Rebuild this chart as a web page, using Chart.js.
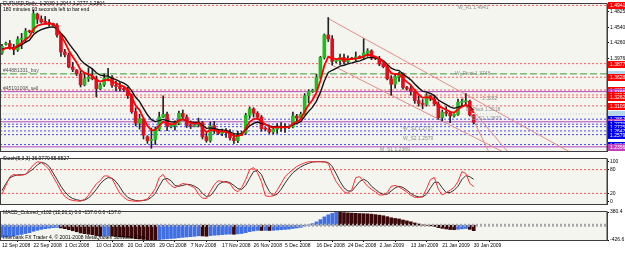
<!DOCTYPE html>
<html lang="en">
<head>
<meta charset="UTF-8">
<title>EURUSD Daily</title>
<script src="https://cdn.jsdelivr.net/npm/chart.js"></script>
<style>
  html, body { margin: 0; padding: 0; background: #fff; }
  #wrap { position: relative; width: 625px; height: 253px; overflow: hidden; background: #fff; }
  #wrap canvas { position: absolute; left: 0; }
</style>
</head>
<body>
<div id="wrap">
  <canvas id="mainChart" width="625" height="155" style="top:0px"></canvas>
  <canvas id="stochChart" width="625" height="53" style="top:155px"></canvas>
  <canvas id="macdChart" width="625" height="45" style="top:208px"></canvas>
</div>
<script>
// daily bars 12 Sep 2008 .. 30 Jan 2009 (incl. sunday bars)
const opens = [1.4070,1.4230,1.4245,1.4170,1.4130,1.4320,1.4340,1.4470,1.4460,1.4780,
  1.4690,1.4640,1.4630,1.4610,1.4580,1.4390,1.4090,1.4040,1.3815,1.3760,
  1.3690,1.3490,1.3600,1.3640,1.3600,1.3420,1.3490,1.3610,1.3620,1.3480,
  1.3460,1.3420,1.3400,1.3290,1.3000,1.2790,1.2860,1.2540,1.2470,1.2490,
  1.2680,1.2900,1.2950,1.2730,1.2740,1.2790,1.2970,1.2900,1.2750,1.2730,
  1.2760,1.2800,1.2540,1.2470,1.2740,1.2650,1.2600,1.2640,1.2620,1.2520,
  1.2470,1.2570,1.2610,1.2930,1.3050,1.2970,1.2900,1.2690,1.2680,1.2630,
  1.2680,1.2730,1.2710,1.2710,1.2720,1.2920,1.2880,1.2950,1.3290,1.3370,
  1.3390,1.3630,1.3990,1.4400,1.4330,1.3920,1.3930,1.3990,1.3910,1.3970,
  1.3960,1.4000,1.3990,1.4070,1.4110,1.3980,1.3970,1.3870,1.3820,1.3600,
  1.3500,1.3640,1.3700,1.3440,1.3420,1.3370,1.3200,1.3150,1.3130,1.3290,
  1.3230,1.3140,1.2890,1.2990,1.2970,1.2920,1.2950,1.3170,1.3180,1.3190,
  1.2939];
const highs = [1.4230,1.4270,1.4300,1.4230,1.4370,1.4430,1.4520,1.4490,1.4860,1.4800,
  1.4750,1.4740,1.4680,1.4620,1.4610,1.4420,1.4140,1.4070,1.3900,1.3770,
  1.3740,1.3720,1.3800,1.3770,1.3650,1.3520,1.3690,1.3790,1.3660,1.3560,
  1.3530,1.3440,1.3450,1.3320,1.3070,1.2950,1.2890,1.2560,1.2700,1.2720,
  1.2990,1.3290,1.2990,1.2760,1.2830,1.3010,1.3030,1.2940,1.2830,1.2770,
  1.2880,1.2820,1.2610,1.2810,1.2820,1.2660,1.2680,1.2690,1.2670,1.2600,
  1.2640,1.2640,1.2970,1.3085,1.3070,1.3000,1.2930,1.2710,1.2720,1.2720,
  1.2780,1.2800,1.2780,1.2740,1.2990,1.2950,1.2990,1.3330,1.3400,1.3410,
  1.3680,1.4010,1.4420,1.4720,1.4390,1.3950,1.4050,1.4050,1.4020,1.3990,
  1.4090,1.4020,1.4330,1.4150,1.4130,1.4000,1.4010,1.3900,1.3840,1.3660,
  1.3680,1.3720,1.3710,1.3460,1.3480,1.3410,1.3290,1.3220,1.3330,1.3300,
  1.3300,1.3180,1.3030,1.3090,1.3000,1.2960,1.3230,1.3230,1.3330,1.3210,
  1.2944];
const lows = [1.4045,1.4215,1.4140,1.4040,1.4100,1.4150,1.4260,1.4440,1.4440,1.4610,
  1.4620,1.4600,1.4560,1.4560,1.4360,1.4010,1.4000,1.3800,1.3730,1.3660,
  1.3450,1.3470,1.3550,1.3580,1.3270,1.3400,1.3460,1.3560,1.3440,1.3380,
  1.3380,1.3370,1.3240,1.2970,1.2740,1.2680,1.2500,1.2420,1.2330,1.2400,
  1.2650,1.2890,1.2650,1.2700,1.2660,1.2760,1.2860,1.2710,1.2690,1.2720,
  1.2720,1.2500,1.2440,1.2440,1.2600,1.2580,1.2560,1.2530,1.2480,1.2420,
  1.2430,1.2560,1.2580,1.2880,1.2900,1.2860,1.2640,1.2650,1.2600,1.2590,
  1.2600,1.2640,1.2620,1.2690,1.2700,1.2810,1.2850,1.2940,1.3160,1.3350,
  1.3380,1.3600,1.3960,1.4280,1.3850,1.3890,1.3860,1.3870,1.3890,1.3950,
  1.3930,1.3980,1.3960,1.4010,1.3950,1.3950,1.3840,1.3800,1.3580,1.3300,
  1.3430,1.3550,1.3410,1.3390,1.3300,1.3150,1.3100,1.3050,1.3100,1.3200,
  1.3110,1.2860,1.2830,1.2920,1.2800,1.2900,1.2930,1.3100,1.3120,1.2920,
  1.2777];
const closes = [1.4195,1.4245,1.4170,1.4130,1.4320,1.4340,1.4470,1.4460,1.4790,1.4690,
  1.4640,1.4630,1.4610,1.4580,1.4400,1.4090,1.4040,1.3815,1.3770,1.3690,
  1.3490,1.3600,1.3630,1.3600,1.3420,1.3490,1.3610,1.3620,1.3480,1.3460,
  1.3420,1.3400,1.3290,1.3000,1.2790,1.2870,1.2570,1.2470,1.2490,1.2680,
  1.2900,1.2950,1.2730,1.2740,1.2790,1.2970,1.2900,1.2750,1.2730,1.2760,
  1.2800,1.2540,1.2470,1.2740,1.2650,1.2600,1.2640,1.2620,1.2520,1.2470,
  1.2570,1.2610,1.2930,1.3050,1.2970,1.2900,1.2690,1.2680,1.2630,1.2680,
  1.2730,1.2710,1.2710,1.2720,1.2920,1.2880,1.2950,1.3290,1.3370,1.3390,
  1.3630,1.3990,1.4400,1.4330,1.3920,1.3930,1.3990,1.3910,1.3970,1.3960,
  1.4000,1.3990,1.4070,1.4110,1.3980,1.3970,1.3870,1.3820,1.3600,1.3500,
  1.3640,1.3700,1.3440,1.3420,1.3370,1.3200,1.3150,1.3130,1.3290,1.3230,
  1.3140,1.2890,1.2990,1.2970,1.2920,1.2950,1.3170,1.3180,1.3190,1.2940,
  1.2804];

// moving averages (red = fast, black = slow)
const maFast = [1.4120,1.4162,1.4165,1.4153,1.4209,1.4253,1.4325,1.4370,1.4510,1.4570,
  1.4593,1.4605,1.4607,1.4598,1.4532,1.4385,1.4270,1.4118,1.4002,1.3898,
  1.3762,1.3708,1.3682,1.3655,1.3577,1.3548,1.3569,1.3586,1.3551,1.3521,
  1.3487,1.3458,1.3402,1.3268,1.3109,1.3029,1.2876,1.2741,1.2657,1.2665,
  1.2743,1.2812,1.2785,1.2770,1.2777,1.2841,1.2861,1.2824,1.2793,1.2782,
  1.2788,1.2705,1.2627,1.2665,1.2660,1.2640,1.2640,1.2633,1.2595,1.2553,
  1.2559,1.2576,1.2694,1.2813,1.2865,1.2877,1.2815,1.2770,1.2723,1.2709,
  1.2716,1.2714,1.2713,1.2715,1.2783,1.2815,1.2860,1.3003,1.3125,1.3213,
  1.3352,1.3565,1.3843,1.4005,1.3977,1.3961,1.3971,1.3951,1.3957,1.3958,
  1.3972,1.3978,1.4009,1.4043,1.4022,1.4005,1.3960,1.3913,1.3809,1.3706,
  1.3684,1.3689,1.3606,1.3544,1.3486,1.3391,1.3311,1.3251,1.3264,1.3253,
  1.3215,1.3107,1.3068,1.3035,1.2997,1.2981,1.3044,1.3089,1.3123,1.3062,
  1.2976];
const maSlow = [1.4140,1.4161,1.4163,1.4156,1.4189,1.4219,1.4269,1.4307,1.4404,1.4461,
  1.4497,1.4524,1.4541,1.4549,1.4519,1.4433,1.4354,1.4246,1.4151,1.4059,
  1.3945,1.3876,1.3827,1.3782,1.3710,1.3666,1.3655,1.3648,1.3614,1.3583,
  1.3550,1.3520,1.3474,1.3379,1.3261,1.3183,1.3060,1.2942,1.2852,1.2818,
  1.2834,1.2857,1.2832,1.2814,1.2809,1.2841,1.2853,1.2832,1.2812,1.2802,
  1.2802,1.2750,1.2694,1.2703,1.2692,1.2674,1.2667,1.2658,1.2630,1.2598,
  1.2592,1.2596,1.2663,1.2740,1.2786,1.2809,1.2785,1.2764,1.2737,1.2726,
  1.2727,1.2724,1.2721,1.2721,1.2761,1.2785,1.2818,1.2912,1.3004,1.3081,
  1.3191,1.3351,1.3561,1.3715,1.3756,1.3791,1.3831,1.3847,1.3872,1.3890,
  1.3912,1.3928,1.3956,1.3987,1.3986,1.3983,1.3960,1.3932,1.3866,1.3793,
  1.3762,1.3750,1.3688,1.3634,1.3581,1.3505,1.3434,1.3373,1.3356,1.3331,
  1.3293,1.3212,1.3168,1.3128,1.3086,1.3059,1.3081,1.3101,1.3119,1.3083,
  1.3027];

// Stoch(5,3,3)
const stochK = [18,40,62,68,65,66,68,80,92,100, 98,90,80,62,45,26,12,5,2,1,
  0,5,15,30,44,52,64,64,57,38, 20,10,3,1,0,1,3,6,18,32,
  60,68,50,40,34,40,45,43,39,34, 18,8,7,25,42,52,50,48,45,30,
  24,35,55,80,85,72,50,14,12,14, 28,45,62,72,80,88,93,97,100,100,
  100,100,99,96,70,50,36,24,20,30, 60,62,50,38,30,24,16,16,22,38,
  40,36,30,23,15,10,10,12,32,55, 60,30,16,22,28,35,50,75,70,45,
  36.9779];
const stochD = [27,45,59,64,67,67,68,75,82,92, 98,96,88,72,55,38,24,13,7,4,
  2,3,8,18,30,44,54,60,58,50, 36,20,10,5,2,1,2,4,10,20,
  38,55,58,52,40,38,40,43,42,38, 32,20,12,14,26,42,48,50,47,40,
  32,30,40,58,75,78,68,44,25,14, 18,30,46,60,72,80,87,92,96,99,
  100,100,100,98,88,70,50,34,26,26, 38,50,56,50,38,30,22,18,18,26,
  34,38,35,28,20,14,11,11,18,34, 48,48,34,22,22,28,38,55,65,62,
  55.5527];

// MACD_Colored (12,26,1), in points
const macd = [-350,-335,-320,-305,-285,-265,-240,-215,-175,-145,
  -120,-100,-85,-72,-65,-80,-100,-130,-160,-190,
  -225,-245,-260,-275,-300,-315,-312,-305,-315,-325,
  -335,-342,-352,-370,-390,-398,-410,-418,-424,-426.6,
  -415,-400,-392,-385,-376,-362,-350,-340,-330,-320,
  -305,-310,-318,-300,-290,-282,-272,-262,-258,-262,
  -250,-240,-215,-185,-165,-150,-152,-150,-152,-148,
  -138,-130,-122,-112,-95,-80,-62,-25,10,45,
  95,160,240,300,340,380.4,372,362,355,348,
  342,336,332,328,318,305,290,272,245,215,
  195,180,150,125,98,65,35,8,-5,-18,
  -35,-70,-90,-108,-125,-130,-118,-105,-95,-120,
  -157];

// horizontal levels and trend lines drawn on the price pane
const levels = [1.4941, 1.3877, 1.3690, 1.3628, 1.3395, 1.3365, 1.3304, 1.3262, 1.3105,
  1.2958, 1.2862, 1.2814, 1.2770, 1.2725, 1.2647, 1.2579, 1.2398, 1.2356];
const levelKind = ['red', 'red', 'green', 'red', 'red', 'mag', 'red', 'red', 'red',
  'pale', 'blue', 'mag', 'blue', 'blue', 'blue', 'blue', 'blue', 'mag'];
const trendLines = [
  [83, 1.4700, 145.8, 1.2209],
  [84, 1.3846, 128, 1.2244],
  [117, 1.3276, 124.2, 1.2209],
  [119.1, 1.3081, 129.3, 1.2209]
];

const xTickBars = [0, 8, 16, 24, 32, 40, 48, 56, 64, 72, 80, 88, 96, 104, 112, 120];
const xTickLabels = ['12 Sep 2008', '22 Sep 2008', '1 Oct 2008', '10 Oct 2008', '20 Oct 2008',
  '29 Oct 2008', '7 Nov 2008', '17 Nov 2008', '26 Nov 2008', '5 Dec 2008', '16 Dec 2008',
  '24 Dec 2008', '2 Jan 2009', '13 Jan 2009', '21 Jan 2009', '30 Jan 2009'];
const priceTicks = [1.4825, 1.4540, 1.4260, 1.3976];
const stochTicks = [100, 80, 20, 0];
const macdTicks = [380.4, -426.6];

// ---- styling / helpers ----
const X_MIN = -0.5, X_MAX = 153.9;
const FONT = "'Liberation Sans', 'DejaVu Sans', sans-serif";
Chart.defaults.font.family = FONT;
Chart.defaults.font.size = 5;
Chart.defaults.color = '#000';
Chart.defaults.animation = false;
Chart.defaults.events = [];
Chart.defaults.plugins.legend.display = false;
Chart.defaults.plugins.tooltip.enabled = false;

const levelStyle = {
  red:   { line: '#ff5a5a', dash: [2, 2], box: '#ff0000', text: '#ffffff' },
  blue:  { line: '#4646ff', dash: [2, 2], box: '#0000ee', text: '#ffffff' },
  mag:   { line: '#b048c0', dash: [],     box: '#c040c0', text: '#ffffff' },
  green: { line: '#3c9c3c', dash: [7, 3], box: '#b4d6ea', text: null },
  pale:  { line: '#c4c4d4', dash: [1, 2], box: '#b4d6ea', text: null }
};

const pts = (arr) => arr.map((v, i) => ({ x: i, y: v }));
const flat = (v) => [{ x: X_MIN, y: v }, { x: X_MAX, y: v }];
const hiddenX = { type: 'linear', min: X_MIN, max: X_MAX, offset: false, display: false };

function rightAxis(min, max, ticks, fmt) {
  return {
    position: 'right', min: min, max: max,
    afterFit: (s) => { s.width = 18; },
    afterBuildTicks: (s) => { s.ticks = ticks.map(v => ({ value: v })); },
    ticks: { callback: fmt, font: { size: 5 }, color: '#000', padding: 1 },
    grid: { drawOnChartArea: false, tickLength: 2, color: '#000' },
    border: { color: '#3c3c3c' }
  };
}

function paneDecor(texts, extra) {
  return {
    id: 'paneDecor',
    beforeDraw(chart) {
      const { ctx, chartArea: a } = chart;
      ctx.save();
      ctx.fillStyle = '#ffffff';
      ctx.fillRect(0, 0, chart.width, chart.height);
      ctx.fillStyle = '#f5f5f0';
      ctx.fillRect(a.left, a.top, a.right - a.left, a.bottom - a.top);
      ctx.restore();
    },
    afterDatasetsDraw(chart) {
      const { ctx, chartArea: a } = chart;
      ctx.save();
      if (extra) extra(chart);
      ctx.font = '5px ' + FONT;
      ctx.textBaseline = 'middle';
      ctx.textAlign = 'left';
      texts.forEach(t => { ctx.fillStyle = t[3]; ctx.fillText(t[0], t[1], t[2]); });
      ctx.strokeStyle = '#3c3c3c';
      ctx.lineWidth = 1;
      ctx.strokeRect(a.left + 0.5, a.top - 0.5, a.right - a.left - 0.5, a.bottom - a.top + 1);
      ctx.restore();
    }
  };
}

// coloured price boxes on the right axis
function levelBoxes(chart) {
  const ys = chart.scales.y, ctx = chart.ctx, x0 = chart.chartArea.right + 1;
  ctx.font = '5px ' + FONT;
  ctx.textBaseline = 'middle';
  levels.forEach((v, k) => {
    const st = levelStyle[levelKind[k]];
    const py = Math.round(ys.getPixelForValue(v));
    ctx.fillStyle = st.box;
    ctx.fillRect(x0, py - 3, 17, 7);
    if (st.text) {
      ctx.fillStyle = st.text;
      ctx.fillText(v.toFixed(4), x0 + 2, py + 0.5);
    }
  });
}

// ---- price pane ----
const up = closes.map((c, i) => c >= opens[i]);
new Chart(document.getElementById('mainChart'), {
  type: 'bar',
  data: {
    datasets: [
      { type: 'line', data: pts(maFast), borderColor: '#ff0000', borderWidth: 1.8, pointRadius: 0, order: 0 },
      { type: 'line', data: pts(maSlow), borderColor: '#111111', borderWidth: 1.4, pointRadius: 0, order: 0 },
      { type: 'bar', data: opens.map((o, i) => ({ x: i, y: [o, closes[i]] })),
        backgroundColor: up.map(u => u ? '#22bb22' : '#dd1020'),
        barThickness: 3, minBarLength: 1, grouped: false, order: 1 },
      { type: 'bar', data: lows.map((l, i) => ({ x: i, y: [l, highs[i]] })),
        backgroundColor: '#222222', barThickness: 1, grouped: false, order: 2 },
      ...trendLines.map(t => ({
        type: 'line', data: [{ x: t[0], y: t[1] }, { x: t[2], y: t[3] }],
        borderColor: '#e88c8c', borderWidth: 1, pointRadius: 0, order: 3
      })),
      ...levels.map((v, k) => ({
        type: 'line', data: flat(v), borderColor: levelStyle[levelKind[k]].line,
        borderDash: levelStyle[levelKind[k]].dash, borderWidth: 1, pointRadius: 0, order: 4
      }))
    ]
  },
  options: {
    responsive: false, devicePixelRatio: 1,
    layout: { padding: { top: 2, bottom: 2, left: 0, right: 0 } },
    scales: { x: hiddenX, y: rightAxis(1.2280, 1.4967, priceTicks, v => v.toFixed(4)) }
  },
  plugins: [paneDecor([
    ['EURUSD,Daily  1.2939 1.2944 1.2777 1.2804', 3, 4, '#000'],
    ['180 minutes 03 seconds left to bar end', 3, 10, '#000'],
    ['#44881331_buy', 3, 71, '#555'],
    ['#45191008_sell', 3, 89, '#555'],
    ['W_R1 1.4941', 458, 8, '#8c8c8c'],
    ['W_Pivot 1.3748', 455, 74, '#8c8c8c'],
    ['1.3262', 482, 99, '#8c8c8c'],
    ['D_Pivot 1.3018', 466, 110, '#8c8c8c'],
    ['D_S1 1.2870', 472, 119, '#8c8c8c'],
    ['W_S1 1.2737', 403, 129, '#8c8c8c'],
    ['W_S2 1.2579', 403, 139, '#8c8c8c'],
    ['M_S1 1.2369', 380, 150, '#8c8c8c']
  ], levelBoxes)]
});

// ---- stochastic pane ----
new Chart(document.getElementById('stochChart'), {
  type: 'line',
  data: {
    datasets: [
      { data: pts(stochK), borderColor: '#ff3030', borderWidth: 1, pointRadius: 0 },
      { data: pts(stochD), borderColor: '#333333', borderWidth: 1, pointRadius: 0 },
      { data: flat(80), borderColor: '#ff5050', borderDash: [2, 2], borderWidth: 1, pointRadius: 0 },
      { data: flat(20), borderColor: '#ff5050', borderDash: [2, 2], borderWidth: 1, pointRadius: 0 }
    ]
  },
  options: {
    responsive: false, devicePixelRatio: 1,
    layout: { padding: { top: 1, bottom: 2, left: 0, right: 0 } },
    scales: { x: hiddenX, y: rightAxis(-6.8, 106.8, stochTicks, v => String(v)) }
  },
  plugins: [paneDecor([['Stoch(5,3,3) 36.9779 55.5527', 3, 4, '#000']])]
});

// ---- MACD pane ----
new Chart(document.getElementById('macdChart'), {
  type: 'bar',
  data: {
    datasets: [
      { type: 'line', data: flat(0), borderColor: '#a8a8a8', borderDash: [2, 2], borderWidth: 3, pointRadius: 0, order: 0 },
      { type: 'bar', data: pts(macd),
        backgroundColor: macd.map((v, i) => (i === 0 || v > macd[i - 1]) ? '#3f6fe2' : '#3a0808'),
        barThickness: 3, order: 1 }
    ]
  },
  options: {
    responsive: false, devicePixelRatio: 1,
    layout: { padding: { top: 1, bottom: 0, left: 0, right: 0 } },
    scales: {
      x: {
        type: 'linear', min: X_MIN, max: X_MAX, offset: false,
        afterFit: (s) => { s.height = 13; },
        afterBuildTicks: (s) => { s.ticks = xTickBars.map(v => ({ value: v })); },
        ticks: {
          callback: (v) => xTickLabels[xTickBars.indexOf(v)],
          align: 'start', maxRotation: 0, autoSkip: false, padding: 1,
          font: { size: 5 }, color: '#000'
        },
        grid: { drawOnChartArea: false, tickLength: 2, color: '#000' },
        border: { color: '#3c3c3c' }
      },
      y: rightAxis(-426.6, 380.4, macdTicks, v => v.toFixed(1))
    }
  },
  plugins: [paneDecor([
    ['MACD_Colored_v102 (12,26,1) 0.0 -157.0 0.0 -157.0', 3, 5, '#000'],
    ['Interbank FX Trader 4, \u00a9 2001-2008 MetaQuotes Software Corp.', 3, 30, '#000']
  ])]
});
</script>
</body>
</html>
